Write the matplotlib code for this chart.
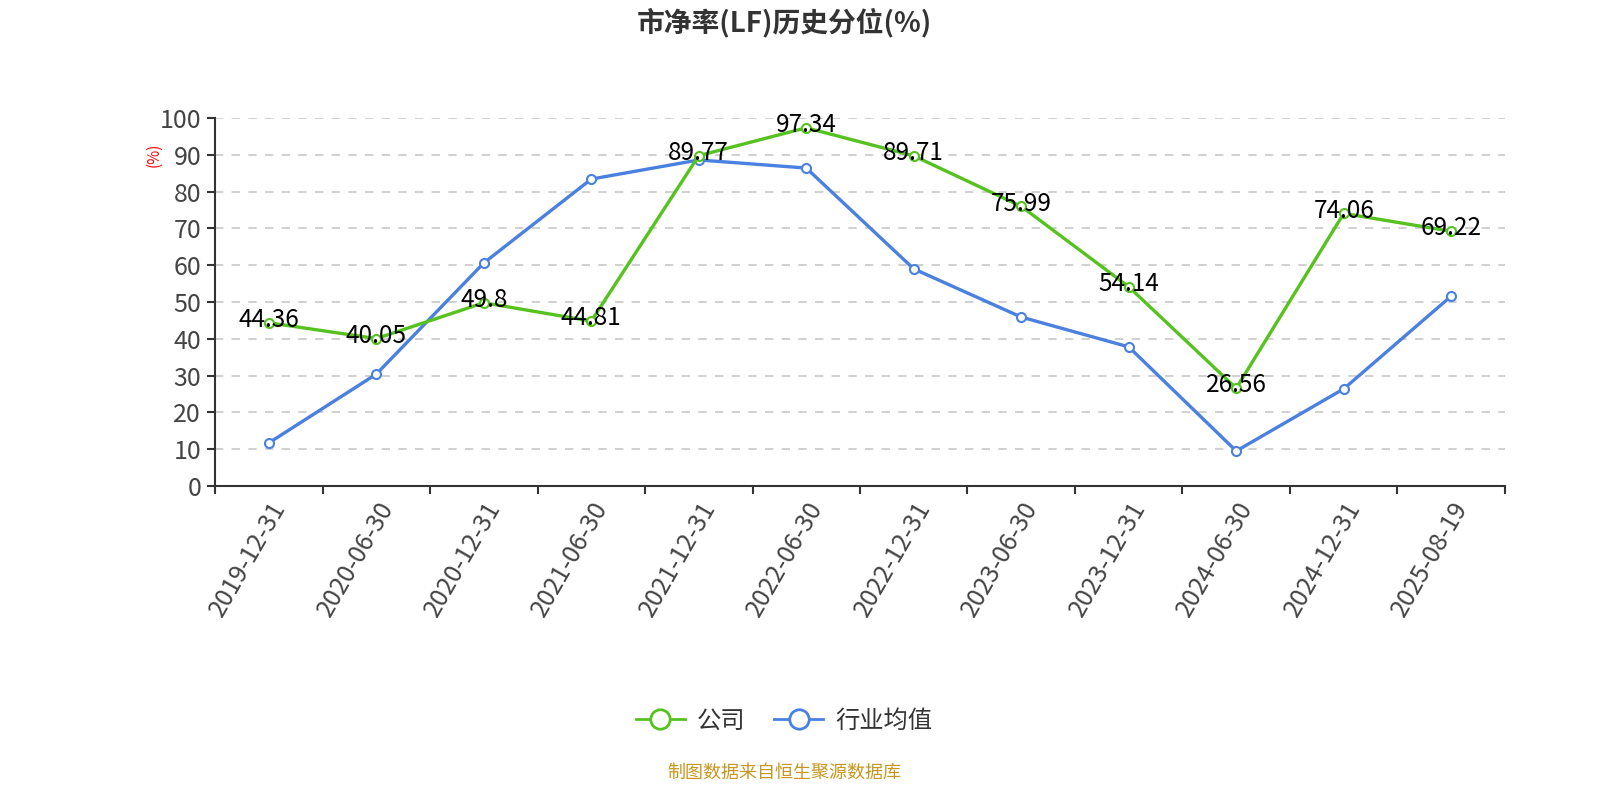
import matplotlib
matplotlib.use('Agg')
import matplotlib.pyplot as plt
from matplotlib.lines import Line2D

plt.rcParams['font.family'] = ['Noto Sans CJK SC', 'DejaVu Sans']

# data
dates = ['2019-12-31', '2020-06-30', '2020-12-31', '2021-06-30', '2021-12-31', '2022-06-30',
         '2022-12-31', '2023-06-30', '2023-12-31', '2024-06-30', '2024-12-31', '2025-08-19']
company = [44.36, 40.05, 49.8, 44.81, 89.77, 97.34, 89.71, 75.99, 54.14, 26.56, 74.06, 69.22]
industry = [11.7, 30.4, 60.6, 83.4, 88.6, 86.4, 59.0, 45.9, 37.8, 9.5, 26.4, 51.6]

green = '#56c21f'
blue = '#4a80e0'

fig = plt.figure(figsize=(16, 8), dpi=100)
ax = fig.add_axes([0.1344, 0.3925, 0.8062, 0.46])

x = list(range(len(dates)))
ax.plot(x, industry, color=blue, lw=2.4, marker='o', ms=6.5, mfc='white', mec=blue, mew=1.5, zorder=3)
ax.plot(x, company, color=green, lw=2.4, marker='o', ms=6.5, mfc='white', mec=green, mew=1.5, zorder=4)

for xi, v in zip(x, company):
    ax.annotate(f'{v:g}', (xi, v), xytext=(0, 2), textcoords='offset points',
                ha='center', va='center', fontsize=17.5, color='black', zorder=5)

ax.set_xlim(-0.5, len(dates) - 0.5)
ax.set_ylim(0, 100)
ax.set_yticks(range(0, 101, 10))
ax.set_xticks([i - 0.5 for i in range(len(dates) + 1)])
ax.set_xticklabels([])
ax.set_xticks(x, minor=True)
ax.set_xticklabels(dates, minor=True, rotation=60, ha='right', va='top',
                   rotation_mode='anchor', fontsize=18, color='#444444')
ax.tick_params(axis='x', which='minor', length=0, pad=8)
ax.tick_params(axis='x', which='major', length=6, width=1.5, color='#333333')
ax.tick_params(axis='y', length=6, width=1.5, color='#333333', labelsize=18, labelcolor='#444444', pad=4)

ax.grid(axis='y', color='#c8c8c8', ls=(0, (5, 5)), lw=1.2)
ax.set_axisbelow(True)
for s in ['top', 'right']:
    ax.spines[s].set_visible(False)
ax.spines['left'].set_color('#333333')
ax.spines['left'].set_linewidth(1.5)
ax.spines['bottom'].set_color('#333333')
ax.spines['bottom'].set_linewidth(1.5)

fig.text(0.096, 0.807, '(%)', color='red', fontsize=11, rotation=90, ha='center', va='center')

fig.text(0.49, 0.972, '市净率(LF)历史分位(%)', ha='center', va='center', fontsize=20,
         fontweight='bold', color='#333333')

handles = [Line2D([], [], color=green, lw=2, marker='o', ms=14, mfc='white', mec=green, mew=2),
           Line2D([], [], color=blue, lw=2, marker='o', ms=14, mfc='white', mec=blue, mew=2)]
fig.legend(handles, ['公司', '行业均值'], loc='center', bbox_to_anchor=(0.49, 0.099), ncol=2,
           frameon=False, fontsize=17.5, handlelength=2.0, columnspacing=1.2, handletextpad=0.5,
           labelcolor='#333333')

fig.text(0.49, 0.034, '制图数据来自恒生聚源数据库', ha='center', va='center', fontsize=13, color='#c8961e')

fig.savefig('out.png', dpi=100)
